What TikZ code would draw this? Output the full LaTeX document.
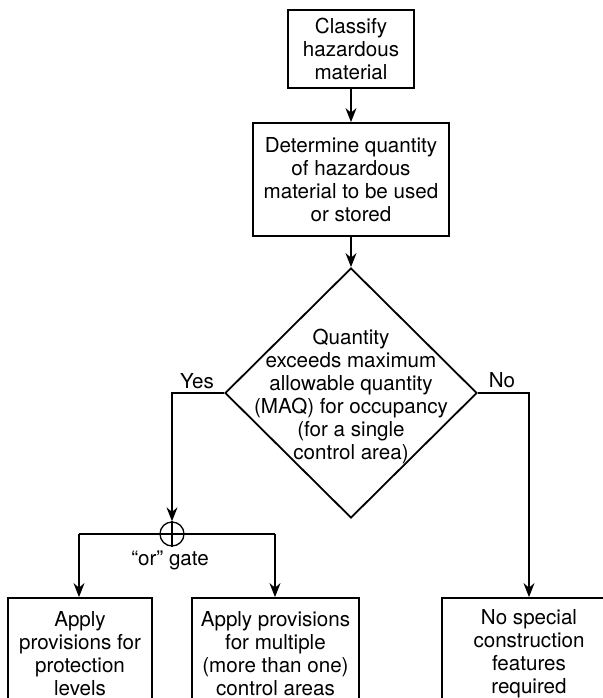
\documentclass[tikz,border=0pt]{standalone}
\usepackage{fontspec}
\setmainfont{TeX Gyre Heros}
\usepackage{tikz}
\usetikzlibrary{arrows.meta,positioning,shapes.geometric}

\begin{document}
\begin{tikzpicture}[x=0.5pt,y=-0.5pt,
  stepbox/.style={draw,line width=0.9pt,align=center,inner sep=2pt},
  decision/.style={draw,diamond,line width=0.9pt,minimum width=126pt,minimum height=125pt,inner sep=0pt},
  flow/.style={line width=0.65pt,-{Stealth[length=7pt,width=5.5pt]}},
  link/.style={line width=0.65pt},
  every node/.style={font=\fontsize{10.3}{11.5}\selectfont}]
% Picture frame
\useasboundingbox (0,0) rectangle (603,698);
\clip (0,0) rectangle (603,698);

% Top boxes
\node[stepbox,minimum width=63pt,minimum height=39pt] (classify) at (351,49)
  {Classify\\hazardous\\material};
\node[stepbox,minimum width=98pt,minimum height=56.5pt] (determine) at (351,179.5)
  {Determine quantity\\of hazardous\\material to be used\\or stored};

% Decision diamond
\node[decision] (maq) at (351,393) {};
\node[align=center] (maqtext) at (351,396)
  {Quantity\\exceeds maximum\\allowable quantity\\(MAQ) for occupancy\\(for a single\\control area)};

% Branch labels and corners
\node (yes) at (197,381) {Yes};
\node (no) at (502,380) {No};
\coordinate (yescorner) at (172,393);
\coordinate (nocorner) at (529,393);

% "or" gate
\node[draw,circle,line width=0.65pt,minimum size=12pt,inner sep=0pt] (orgate) at (172,534) {};
\coordinate (orleft) at (79,534);
\coordinate (orright) at (275,534);
\node (orlabel) at (170,560) {\textquotedblleft or\textquotedblright\ gate};

% Bottom boxes
\node[stepbox,minimum width=72pt,minimum height=56pt] (protect) at (80,654)
  {Apply\\provisions for\\protection\\levels};
\node[stepbox,minimum width=83.5pt,minimum height=56pt] (multiple) at (275.5,654)
  {Apply provisions\\for multiple\\(more than one)\\control areas};
\node[stepbox,minimum width=87pt,minimum height=56pt] (nospecial) at (529,654)
  {No special\\construction\\features\\required};

% Connectors
\draw[flow] (classify) -- (determine);
\draw[flow] (determine) -- (maq.north);
\draw[flow] (maq.west) -- (yescorner) -- (orgate.north);
\draw[flow] (maq.east) -- (nocorner) -- (nospecial.north -| nocorner);
\draw[link] (orgate.north) -- (orgate.south);
\draw[link] (orleft) -- (orright);
\draw[flow] (orleft) -- (protect.north -| orleft);
\draw[flow] (orright) -- (multiple.north -| orright);
\end{tikzpicture}
\end{document}
